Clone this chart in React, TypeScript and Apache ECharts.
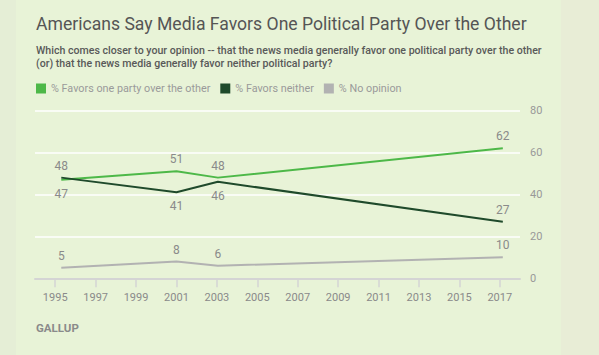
import React, { useEffect, useRef } from "react";
import * as echarts from "echarts";

const title = "Americans Say Media Favors One Political Party Over the Other";
const subtitleLines = [
  "Which comes closer to your opinion -- that the news media generally favor one political party over the other",
  "(or) that the news media generally favor neither political party?",
];
const seriesNames = ["% Favors one party over the other", "% Favors neither", "% No opinion"];
const surveyDates = [1995.3, 2001.0, 2003.05, 2017.15];
const favorsOne = [47, 51, 48, 62];
const favorsNeither = [48, 41, 46, 27];
const noOpinion = [5, 8, 6, 10];
const favorsOneLabelPos = ["bottom", "top", "top", "top"];
const favorsNeitherLabelPos = ["top", "bottom", "bottom", "top"];
const noOpinionLabelPos = ["top", "top", "top", "top"];
const xTickYears = [1995, 1997, 1999, 2001, 2003, 2005, 2007, 2009, 2011, 2013, 2015, 2017];
const yTicks = { min: 0, max: 80, interval: 20 };
const colors = ["#4db848", "#1f4a2b", "#b2b2b2"];

const FONT = "Roboto, 'Noto Sans', sans-serif";

function buildData(values: number[], positions: string[]) {
  return values.map((v, i) => ({
    value: [surveyDates[i], v],
    label: { show: true, position: positions[i], distance: positions[i] === "bottom" ? 8 : 6 },
  }));
}

export default function App() {
  const ref = useRef<HTMLDivElement>(null);
  useEffect(() => {
    document.body.style.margin = "0";
    const chart = echarts.init(ref.current!, null, { renderer: "svg" });
    const labelStyle = { color: "#8a8a8a", fontSize: 12, fontFamily: FONT, distance: 6 };
    const mk = (name: string, vals: number[], pos: string[], color: string) => ({
      name,
      type: "line",
      data: buildData(vals, pos),
      symbol: "circle",
      symbolSize: 0,
      showSymbol: true,
      lineStyle: { color, width: 2 },
      itemStyle: { color },
      label: { ...labelStyle, show: true },
      emphasis: { disabled: true },
      z: 3,
    });
    chart.setOption({
      animation: false,
      backgroundColor: "#e8f3d7",
      textStyle: { fontFamily: FONT },
      graphic: [
        { type: "rect", left: 0, top: 0, z: -10, shape: { width: 16, height: 355 }, style: { fill: "#e5eed6" } },
        { type: "rect", left: 561, top: 0, z: -10, shape: { width: 38, height: 355 }, style: { fill: "#e8edd6" } },
        {
          type: "text", x: 36, y: 24,
          style: { text: title, fill: "#555555", font: `17.6px ${FONT}`, verticalAlign: "middle" },
        },
        ...subtitleLines.map((t, i) => ({
          type: "text", x: 36, y: 50 + i * 13.5,
          style: { text: t, fill: "#595959", font: `500 10.6px ${FONT}`, verticalAlign: "middle" },
        })),
        {
          type: "text", x: 36, y: 328,
          style: { text: "GALLUP", fill: "#8a8a8a", font: `bold 11.5px ${FONT}`, verticalAlign: "middle" },
        },
      ],
      legend: {
        left: 36,
        top: 83,
        padding: 0,
        icon: "rect",
        itemWidth: 10,
        itemHeight: 10,
        itemGap: 10,
        selectedMode: false,
        textStyle: { color: "#9a9a9a", fontSize: 10.8, fontFamily: FONT },
        data: seriesNames.map((n, i) => ({ name: n, itemStyle: { color: colors[i] } })),
      },
      grid: { left: 35, right: 79, top: 110.5, bottom: 76.7 },
      xAxis: {
        type: "value",
        min: 1994,
        max: 2018,
        splitLine: { show: false },
        axisLine: { show: true, lineStyle: { color: "#d4d4d4", width: 2 } },
        axisTick: { show: true, customValues: xTickYears, length: 9, lineStyle: { color: "#d4d4d4", width: 1.5 } },
        axisLabel: {
          customValues: xTickYears,
          formatter: (v: number) => String(v),
          color: "#8a8a8a",
          fontSize: 11,
          margin: 14,
          fontFamily: FONT,
        },
      },
      yAxis: {
        type: "value",
        position: "right",
        min: yTicks.min,
        max: yTicks.max,
        interval: yTicks.interval,
        axisLine: { show: false },
        axisTick: { show: false },
        splitLine: { lineStyle: { color: "#ffffff", width: 1.5 } },
        axisLabel: { color: "#999999", fontSize: 11, margin: 10, fontFamily: FONT },
      },
      series: [
        mk(seriesNames[0], favorsOne, favorsOneLabelPos, colors[0]),
        mk(seriesNames[1], favorsNeither, favorsNeitherLabelPos, colors[1]),
        mk(seriesNames[2], noOpinion, noOpinionLabelPos, colors[2]),
      ],
    });
    return () => chart.dispose();
  }, []);
  return <div ref={ref} style={{ width: 599, height: 355 }} />;
}
